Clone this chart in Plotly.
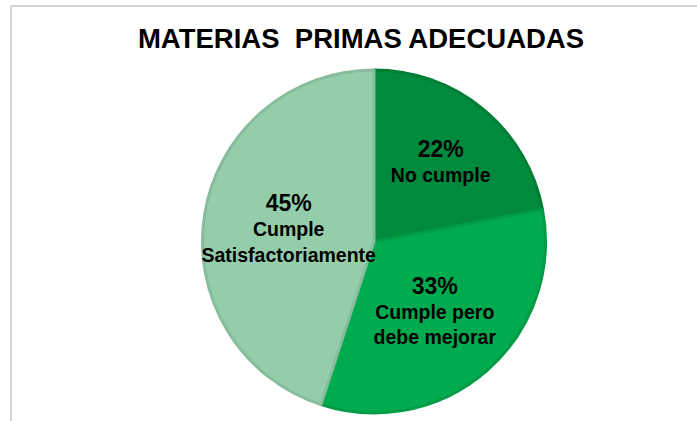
"""
Gráfico circular: materias primas adecuadas
"""
import plotly.graph_objs as go

W, H = 697, 421

# Datos
categorias = ['No cumple', 'Cumple pero debe mejorar', 'Cumple Satisfactoriamente']
etiquetas = ['No cumple', 'Cumple pero<br>debe mejorar', 'Cumple<br>Satisfactoriamente']
valores = [22, 33, 45]

colores = ['#008A3D', '#00AA4F', '#93CDAA']
bordes = ['#007D35', '#009C45', '#87BC9D']

fig = go.Figure()

fig.add_trace(go.Pie(
    labels=categorias,
    values=valores,
    text=etiquetas,
    sort=False,
    direction='clockwise',
    rotation=0,
    marker=dict(colors=colores, line=dict(color=bordes, width=3)),
    texttemplate="<span style='font-size:23px'>%{percent:.0%}</span><br>%{text}",
    textposition='inside',
    insidetextorientation='horizontal',
    textfont=dict(family='Liberation Sans', size=19.5, color='black', weight='bold'),
    hoverinfo='label+percent',
    domain=dict(x=[200 / W, 548 / W], y=[1 - 413 / H, 1 - 70 / H]),
    showlegend=False,
))

# Marco gris del gráfico original (recortado a la derecha y abajo)
fig.add_shape(
    type='rect', xref='paper', yref='paper',
    x0=11 / W, y0=-0.1, x1=1.1, y1=1 - 6 / H,
    line=dict(color='#D6D6D6', width=2),
    fillcolor='rgba(0,0,0,0)',
)

fig.update_layout(
    title=dict(
        text='<b>MATERIAS&nbsp; PRIMAS ADECUADAS</b>',
        x=361 / W, xanchor='center',
        y=1 - 38 / H, yanchor='middle',
        font=dict(family='Liberation Sans', size=27.5, color='black'),
    ),
    width=W,
    height=H,
    margin=dict(l=0, r=0, t=0, b=0),
    paper_bgcolor='white',
    plot_bgcolor='white',
    # evita que plotly reduzca el texto dentro de las porciones
    uniformtext=dict(minsize=19.5, mode='show'),
)

# sin margen del body para que la figura ocupe toda la ventana
fig.write_html("out.html", config={'displayModeBar': False},
               post_script="document.body.style.margin='0';")
